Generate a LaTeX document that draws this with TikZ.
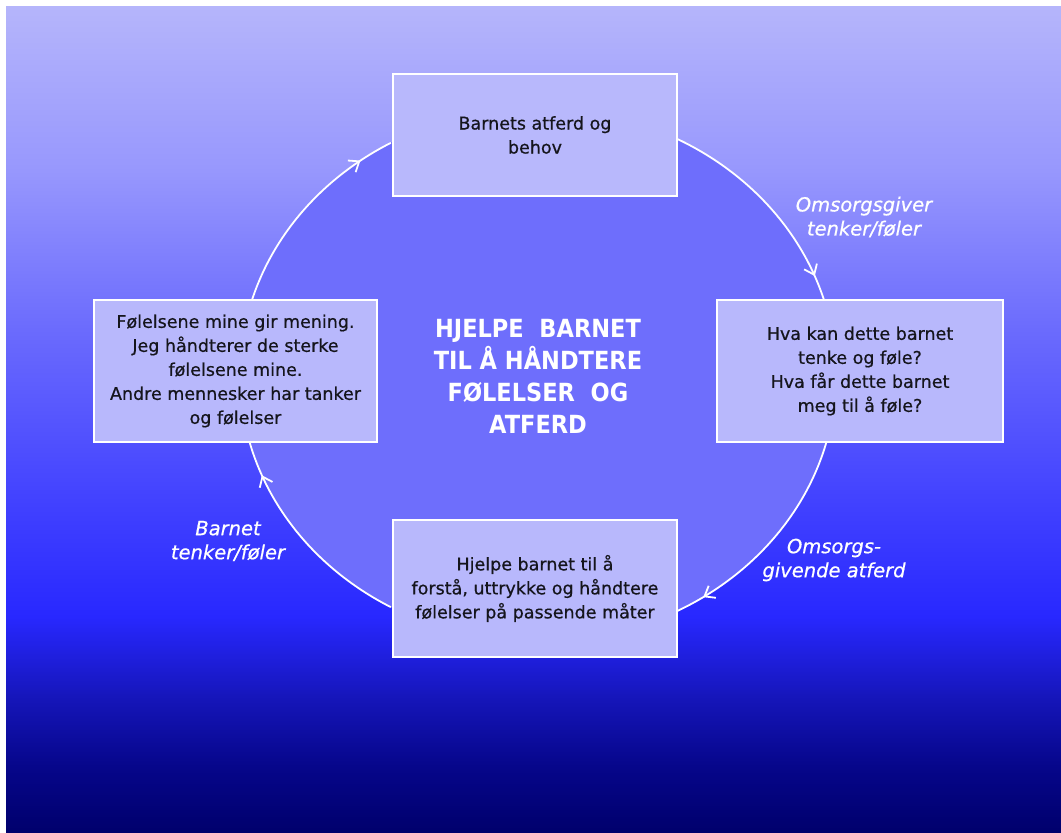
\documentclass[tikz,border=0pt]{standalone}
\usepackage{fontspec}
\setmainfont{DejaVu Sans}
\newfontfamily\titlefont[FakeStretch=0.9]{DejaVu Sans}
\newfontfamily\boxfont[FakeBold=0.6]{DejaVu Sans}
\usetikzlibrary{arrows.meta,decorations.markings,calc}
\definecolor{bgA}{HTML}{00006C}
\definecolor{bgB}{HTML}{06068A}
\definecolor{bgC}{HTML}{1515B8}
\definecolor{bgD}{HTML}{2828FF}
\definecolor{bgE}{HTML}{4242FF}
\definecolor{bgF}{HTML}{6A6AFD}
\definecolor{bgG}{HTML}{9898FD}
\definecolor{bgH}{HTML}{B5B5FB}
\definecolor{ringfill}{HTML}{6E6EFC}
\definecolor{boxfill}{HTML}{B8B8FC}
\definecolor{boxtext}{HTML}{15151C}
\pgfdeclareverticalshading{bgshade}{100bp}{color(0bp)=(bgA); color(25bp)=(bgA); color(29bp)=(bgB); color(33.05bp)=(bgC); color(38.1bp)=(bgD); color(45.15bp)=(bgE); color(55.25bp)=(bgF); color(65.3bp)=(bgG); color(75bp)=(bgH); color(100bp)=(bgH)}
\tikzset{
  box/.style={draw=white, line width=2pt, fill=boxfill, align=center, text=boxtext,
    font=\boxfont\fontsize{17.5}{24}\selectfont, inner sep=4pt},
  flow/.style={draw=white, line width=1.8pt, postaction={decorate},
    decoration={markings, mark=at position #1 with {\arrow[line width=1.8pt]{Straight Barb[length=9pt,width=14pt]}}}},
  lbl/.style={text=white, align=center, font=\boxfont\itshape\fontsize{19.5}{24}\selectfont},
  titletext/.style={text=white, align=center, font=\titlefont\bfseries\fontsize{25}{32}\selectfont}
}
\begin{document}
\begin{tikzpicture}[x=1pt,y=1pt]
\useasboundingbox (0,0) rectangle (1061,833);
\fill[white] (0,0) rectangle (1061,833);
\shade[shading=bgshade] (6,0) rectangle (1061,826);
\coordinate (O) at (538,458);
\fill[ringfill] (O) ellipse[x radius=298pt, y radius=267pt];
% arc end points on the ring
\coordinate (a1s) at ($(O)+(62.6:298pt and 267pt)$);
\coordinate (a2s) at ($(O)+(-14.3:298pt and 267pt)$);
\coordinate (a3s) at ($(O)+(-119.6:298pt and 267pt)$);
\coordinate (a4s) at ($(O)+(163.5:298pt and 267pt)$);
\draw[flow=0.89] (a1s) arc[start angle=62.6, end angle=16.5, x radius=298pt, y radius=267pt];
\draw[flow=0.865] (a2s) arc[start angle=-14.3, end angle=-62.6, x radius=298pt, y radius=267pt];
\draw[flow=0.837] (a3s) arc[start angle=-119.6, end angle=-165.7, x radius=298pt, y radius=267pt];
\draw[flow=0.836] (a4s) arc[start angle=163.5, end angle=119.6, x radius=298pt, y radius=267pt];
% boxes
\node[box, minimum width=284pt, minimum height=122pt] (top) at (535,698) {Barnets atferd og\\behov};
\node[box, minimum width=286pt, minimum height=142pt] (right) at (860,462) {Hva kan dette barnet\\tenke og føle?\\Hva får dette barnet\\meg til å føle?};
\node[box, minimum width=284pt, minimum height=137pt] (bottom) at (535,244.5) {Hjelpe barnet til å\\forstå, uttrykke og håndtere\\følelser på passende måter};
\node[box, minimum width=283pt, minimum height=142pt] (left) at (235.5,462) {Følelsene mine gir mening.\\Jeg håndterer de sterke\\følelsene mine.\\Andre mennesker har tanker\\og følelser};
% centre title
\node[titletext] (title) at (538,457) {HJELPE\ \ BARNET\\TIL Å HÅNDTERE\\FØLELSER\ \ OG\\ATFERD};
% labels
\node[lbl] (l1) at (864,616) {Omsorgsgiver\\tenker/føler};
\node[lbl] (l2) at (834,273) {Omsorgs-\\givende atferd};
\node[lbl] (l3) at (228,292) {Barnet\\tenker/føler};
\end{tikzpicture}
\end{document}
